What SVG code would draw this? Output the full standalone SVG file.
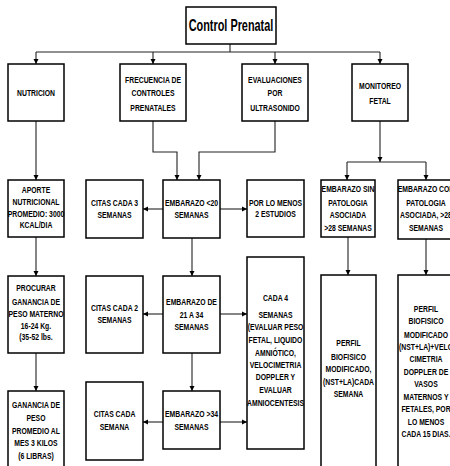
<svg xmlns="http://www.w3.org/2000/svg" width="450" height="466" viewBox="0 0 450 466">
<style>
.box{fill:#fff;stroke:#000;stroke-width:1.5}
.t{font-family:"Liberation Sans",Arial,sans-serif;font-weight:bold;font-size:9.5px;text-anchor:middle;fill:#000}
.title{font-family:"Liberation Sans",Arial,sans-serif;font-weight:bold;font-size:17px;text-anchor:middle;fill:#000}
.c{fill:none;stroke:#222;stroke-width:1.1}
</style>
<defs>
<marker id="ar" markerWidth="6" markerHeight="6" refX="5" refY="3" orient="auto" markerUnits="userSpaceOnUse">
<path d="M0,0.5 L5,3 L0,5.5 Z" fill="#000"/>
</marker>
</defs>
<rect width="450" height="466" fill="#fff"/>
<g id="connectors">
<path class="c" d="M230,44 V52"/>
<path class="c" d="M36,52 H380"/>
<path class="c" d="M36,52 V64" marker-end="url(#ar)"/>
<path class="c" d="M153,52 V64" marker-end="url(#ar)"/>
<path class="c" d="M275,52 V64" marker-end="url(#ar)"/>
<path class="c" d="M380,52 V64" marker-end="url(#ar)"/>
<path class="c" d="M36,121 V180" marker-end="url(#ar)"/>
<path class="c" d="M36,237 V276" marker-end="url(#ar)"/>
<path class="c" d="M36,353 V391" marker-end="url(#ar)"/>
<path class="c" d="M153,121 V152 H177 V180" marker-end="url(#ar)"/>
<path class="c" d="M275,121 V152 H199 V180" marker-end="url(#ar)"/>
<path class="c" d="M192,238 V276" marker-end="url(#ar)"/>
<path class="c" d="M192,353 V391" marker-end="url(#ar)"/>
<path class="c" d="M163,209 H143" marker-end="url(#ar)" stroke-width="1.6"/>
<path class="c" d="M163,314 H143" marker-end="url(#ar)" stroke-width="1.6"/>
<path class="c" d="M163,422 H143" marker-end="url(#ar)" stroke-width="1.6"/>
<path class="c" d="M220,209 H247" marker-end="url(#ar)" stroke-width="1.6"/>
<path class="c" d="M220,314 H247" marker-end="url(#ar)" stroke-width="1.6"/>
<path class="c" d="M220,422 H247" marker-end="url(#ar)" stroke-width="1.6"/>
<path class="c" d="M380,121 V162" marker-end="url(#ar)"/>
<path class="c" d="M347,162 H426"/>
<path class="c" d="M347,162 V180" marker-end="url(#ar)"/>
<path class="c" d="M426,162 V180" marker-end="url(#ar)"/>
<path class="c" d="M348,237 V275" marker-end="url(#ar)"/>
<path class="c" d="M426,239 V275" marker-end="url(#ar)"/>
</g>
<g id="title">
<rect class="box" x="186" y="7" width="90" height="37"/>
<g transform="translate(231 0) scale(0.64 1)"><text class="title" x="0" y="31.5">Control Prenatal</text></g>
</g>
<g id="nutricion">
<rect class="box" x="8" y="64" width="56" height="57"/>
<g transform="translate(36 0) scale(0.72 1)"><text class="t" x="0" y="96">NUTRICION</text></g>
</g>
<g id="frecuencia">
<rect class="box" x="120" y="64" width="66" height="57"/>
<g transform="translate(153 0) scale(0.72 1)"><text class="t" x="0" y="82.6">FRECUENCIA DE</text><text class="t" x="0" y="96">CONTROLES</text><text class="t" x="0" y="110.6">PRENATALES</text></g>
</g>
<g id="evaluaciones">
<rect class="box" x="242" y="64" width="66" height="57"/>
<g transform="translate(275 0) scale(0.72 1)"><text class="t" x="0" y="82.6">EVALUACIONES</text><text class="t" x="0" y="96">POR</text><text class="t" x="0" y="110.6">ULTRASONIDO</text></g>
</g>
<g id="monitoreo">
<rect class="box" x="352" y="64" width="56" height="57"/>
<g transform="translate(380 0) scale(0.72 1)"><text class="t" x="0" y="89.3">MONITOREO</text><text class="t" x="0" y="104">FETAL</text></g>
</g>
<g id="aporte">
<rect class="box" x="8" y="180" width="56" height="57"/>
<g transform="translate(36 0) scale(0.72 1)"><text class="t" x="0" y="193.3">APORTE</text><text class="t" x="0" y="205">NUTRICIONAL</text><text class="t" x="0" y="216.7">PROMEDIO: 3000</text><text class="t" x="0" y="228.3">KCAL/DIA</text></g>
</g>
<g id="citas3">
<rect class="box" x="86" y="180" width="57" height="58"/>
<g transform="translate(114.5 0) scale(0.72 1)"><text class="t" x="0" y="206">CITAS CADA 3</text><text class="t" x="0" y="218.3">SEMANAS</text></g>
</g>
<g id="emb20">
<rect class="box" x="163" y="180" width="57" height="58"/>
<g transform="translate(191.5 0) scale(0.72 1)"><text class="t" x="0" y="206">EMBARAZO &lt;20</text><text class="t" x="0" y="218.3">SEMANAS</text></g>
</g>
<g id="porlomenos">
<rect class="box" x="247" y="180" width="57" height="57"/>
<g transform="translate(275.5 0) scale(0.72 1)"><text class="t" x="0" y="206">POR LO MENOS</text><text class="t" x="0" y="217.5">2 ESTUDIOS</text></g>
</g>
<g id="embsin">
<rect class="box" x="321" y="180" width="54" height="57"/>
<g transform="translate(348 0) scale(0.72 1)"><text class="t" x="0" y="192.5">EMBARAZO SIN</text><text class="t" x="0" y="206">PATOLOGIA</text><text class="t" x="0" y="218.5">ASOCIADA</text><text class="t" x="0" y="231.5">&gt;28 SEMANAS</text></g>
</g>
<g id="embcon">
<rect class="box" x="398" y="180" width="56" height="59"/>
<g transform="translate(426 0) scale(0.72 1)"><text class="t" x="0" y="192.5">EMBARAZO CON</text><text class="t" x="0" y="206">PATOLOGIA</text><text class="t" x="0" y="218.5">ASOCIADA, &gt;28</text><text class="t" x="0" y="231.5">SEMANAS</text></g>
</g>
<g id="procurar">
<rect class="box" x="8" y="276" width="56" height="77"/>
<g transform="translate(36 0) scale(0.72 1)"><text class="t" x="0" y="291.5">PROCURAR</text><text class="t" x="0" y="305">GANANCIA DE</text><text class="t" x="0" y="317.5">PESO MATERNO</text><text class="t" x="0" y="329.5">16-24 Kg.</text><text class="t" x="0" y="340.5">(35-52 lbs.</text></g>
</g>
<g id="citas2">
<rect class="box" x="86" y="276" width="57" height="77"/>
<g transform="translate(114.5 0) scale(0.72 1)"><text class="t" x="0" y="311.5">CITAS CADA 2</text><text class="t" x="0" y="323.5">SEMANAS</text></g>
</g>
<g id="emb2134">
<rect class="box" x="163" y="276" width="57" height="77"/>
<g transform="translate(191.5 0) scale(0.72 1)"><text class="t" x="0" y="305.5">EMBARAZO DE</text><text class="t" x="0" y="318">21 A 34</text><text class="t" x="0" y="330.5">SEMANAS</text></g>
</g>
<g id="cada4">
<rect class="box" x="247" y="257" width="57" height="192"/>
<g transform="translate(275.5 0) scale(0.72 1)"><text class="t" x="0" y="301.5">CADA 4</text><text class="t" x="0" y="318">SEMANAS</text><text class="t" x="0" y="330.5">(EVALUAR PESO</text><text class="t" x="0" y="343">FETAL, LIQUIDO</text><text class="t" x="0" y="356">AMNIÓTICO,</text><text class="t" x="0" y="368">VELOCIMETRIA</text><text class="t" x="0" y="380.5">DOPPLER Y</text><text class="t" x="0" y="393">EVALUAR</text><text class="t" x="0" y="406">AMNIOCENTESIS</text></g>
</g>
<g id="perfil1">
<rect class="box" x="321" y="275" width="55" height="200"/>
<g transform="translate(348.5 0) scale(0.72 1)"><text class="t" x="0" y="346.5">PERFIL</text><text class="t" x="0" y="360">BIOFISICO</text><text class="t" x="0" y="372.5">MODIFICADO,</text><text class="t" x="0" y="385">(NST+LA)CADA</text><text class="t" x="0" y="397.5">SEMANA</text></g>
</g>
<g id="perfil2">
<rect class="box" x="398" y="275" width="56" height="200"/>
<g transform="translate(426 0) scale(0.72 1)"><text class="t" x="0" y="312">PERFIL</text><text class="t" x="0" y="324.5">BIOFISICO</text><text class="t" x="0" y="338">MODIFICADO</text><text class="t" x="0" y="350.5">(NST+LA)+VELO</text><text class="t" x="0" y="362.5">CIMETRIA</text><text class="t" x="0" y="375.5">DOPPLER DE</text><text class="t" x="0" y="387.5">VASOS</text><text class="t" x="0" y="400.5">MATERNOS Y</text><text class="t" x="0" y="412.5">FETALES, POR</text><text class="t" x="0" y="425.5">LO MENOS</text><text class="t" x="0" y="437.5">CADA 15 DIAS.</text></g>
</g>
<g id="ganancia">
<rect class="box" x="8" y="391" width="56" height="90"/>
<g transform="translate(36 0) scale(0.72 1)"><text class="t" x="0" y="408.5">GANANCIA DE</text><text class="t" x="0" y="421.5">PESO</text><text class="t" x="0" y="434.5">PROMEDIO AL</text><text class="t" x="0" y="446.5">MES 3 KILOS</text><text class="t" x="0" y="459.5">(6 LIBRAS)</text></g>
</g>
<g id="citassemana">
<rect class="box" x="86" y="382" width="57" height="78"/>
<g transform="translate(114.5 0) scale(0.72 1)"><text class="t" x="0" y="417.5">CITAS CADA</text><text class="t" x="0" y="430.5">SEMANA</text></g>
</g>
<g id="emb34">
<rect class="box" x="163" y="391" width="57" height="58"/>
<g transform="translate(191.5 0) scale(0.72 1)"><text class="t" x="0" y="417.5">EMBARAZO &gt;34</text><text class="t" x="0" y="430.5">SEMANAS</text></g>
</g>
</svg>
